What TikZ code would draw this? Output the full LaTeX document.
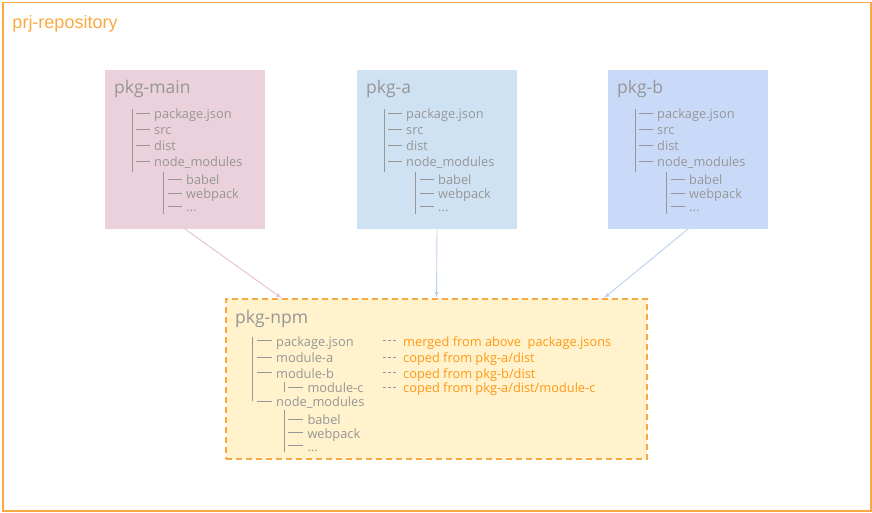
\documentclass[tikz,border=0pt]{standalone}
\usepackage{fontspec}
\setmainfont{Open Sans}
\newfontfamily\repofont{Liberation Sans}
\usepackage{tikz}
\usetikzlibrary{arrows,calc}

\definecolor{txtgray}{RGB}{150,150,150}
\definecolor{frameorange}{RGB}{252,168,64}
\definecolor{noteorange}{RGB}{255,153,20}
\definecolor{mainfill}{HTML}{EAD1DC}
\definecolor{afill}{HTML}{CFE2F3}
\definecolor{bfill}{HTML}{C9DAF8}
\definecolor{npmfill}{HTML}{FFF2CC}
\definecolor{mainarrow}{RGB}{228,190,210}
\definecolor{blarrow}{RGB}{186,210,238}
\newcommand{\etcdots}{...}

\tikzset{
	pkgbox/.style={minimum width=160pt, minimum height=159pt, inner sep=0pt, outer sep=0pt, anchor=north west},
	ttl/.style={anchor=base west, inner sep=0pt, text=txtgray, font=\fontsize{17.5}{20}\selectfont},
	item/.style={anchor=base west, inner sep=0pt, text=txtgray, font=\fontsize{12.8}{14}\selectfont},
	note/.style={anchor=base west, inner sep=0pt, text=noteorange, font=\fontsize{12.8}{14}\selectfont},
	branch/.style={draw=txtgray, line width=0.8pt},
}

\begin{document}
\begin{tikzpicture}[>=latex, x=1pt, y=-1pt]
		\useasboundingbox (0,0) rectangle (872,513);
		%\draw [help lines, step=50] (0,0) grid (872,513);
		\node [draw=frameorange, line width=1.5pt, minimum width=868pt, minimum height=508pt, inner sep=0pt, anchor=north west] (repo) at (2,2) {};
		\node [anchor=base west, inner sep=0pt, text=frameorange, font=\repofont\fontsize{18}{20}\selectfont] (repo-ttl) at (12.3,28.3) {prj-repository};

		% the three packages
		\foreach \nm/\ttltxt/\x/\col in {main/pkg-main/105/mainfill, pkga/pkg-a/357/afill, pkgb/pkg-b/608/bfill} {
			\node [pkgbox, fill=\col] (\nm) at (\x,70) {};
			\begin{scope}[shift={(\nm.north west)}]
				\node [ttl] (\nm-ttl) at (9,23.3) {\ttltxt};
				\draw [branch] (27,39) -- (27,101.7);
				\draw [branch] (58,101.7) -- (58,144);
				\foreach \i/\t/\tx/\y in {1/package.json/49/43, 2/src/49/59, 3/dist/49/75, 4/node\_modules/49/91, 5/babel/81/109, 6/webpack/81/123, 7/\etcdots/81/136} {
					\node [item] (\nm-\i) at (\tx,\y+5.5) {\t};
					\draw [branch] ([xshift=-18pt, yshift=5.5pt]\nm-\i.base west) -- ([xshift=-4pt, yshift=5.5pt]\nm-\i.base west);
				}
			\end{scope}
		}

		% the merged package
		\node [pkgbox, minimum width=421pt, minimum height=160pt, fill=npmfill, draw=frameorange, line width=1.3pt, dash pattern=on 6pt off 4pt] (npm) at (226,299) {};
		\begin{scope}[shift={(npm.north west)}]
			\node [ttl] (npm-ttl) at (9,24.3) {pkg-npm};
			\draw [branch] (26.5,37.7) -- (26.5,102);
			\draw [branch] (58.3,82.7) -- (58.3,92.7);
			\draw [branch] (58.3,111) -- (58.3,153.3);
			\foreach \i/\t/\tx/\y in {1/package.json/50/41.7, 2/module-a/50/58, 3/module-b/50/73.7, 4/module-c/81.3/88.3, 5/node\_modules/50/102, 6/babel/81.3/120, 7/webpack/81.3/133.7, 8/\etcdots/81.3/146.7} {
				\node [item] (npm-\i) at (\tx,\y+5.5) {\t};
				\draw [branch] ([xshift=-19pt, yshift=5.5pt]npm-\i.base west) -- ([xshift=-4pt, yshift=5.5pt]npm-\i.base west);
			}
			\foreach \i/\t/\y in {1/{merged from above\ \ package.jsons}/41.7, 2/{coped from pkg-a/dist}/58, 3/{coped from pkg-b/dist}/73.7, 4/{coped from pkg-a/dist/module-c}/88.3} {
				\node [note] (note-\i) at (177,\y+5.5) {\t};
				\draw [branch, line width=0.6pt, dash pattern=on 3pt off 2pt] ([xshift=-20pt, yshift=5.5pt]note-\i.base west) -- ([xshift=-5pt, yshift=5.5pt]note-\i.base west);
			}
		\end{scope}

		\draw [->, mainarrow, line width=0.9pt, shorten >=1.5pt] (main.south) -- ($(npm.north west)!0.135!(npm.north east)$);
		\draw [->, blarrow, line width=0.9pt, shorten >=1.5pt] (pkga.south) -- (npm.north);
		\draw [->, blarrow, line width=0.9pt, shorten >=1.5pt] (pkgb.south) -- ($(npm.north west)!0.895!(npm.north east)$);
	\end{tikzpicture}
\end{document}
